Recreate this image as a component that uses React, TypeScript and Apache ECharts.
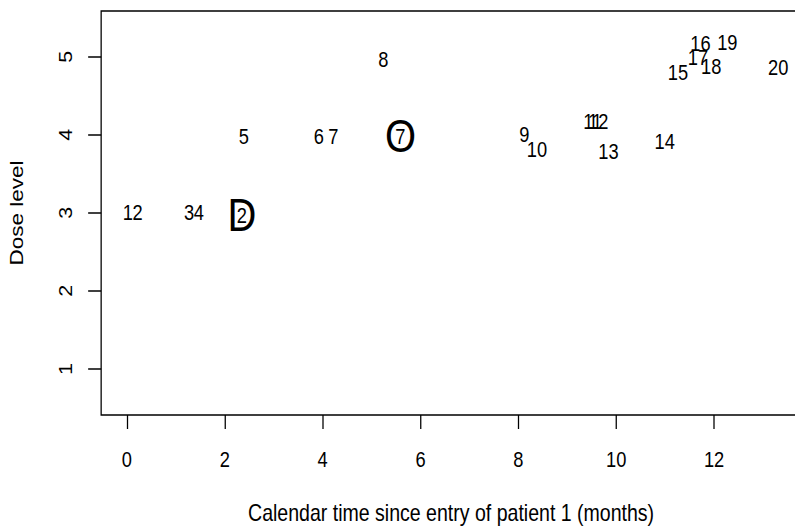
import React, { useEffect, useRef } from "react";
import * as echarts from "echarts";

// Patient entries: label, calendar time of entry (months), dose level (jittered as drawn)
const patientLabels = ["1", "2", "3", "4", "5", "6", "7", "8", "9", "10", "11", "12", "13", "14", "15", "16", "17", "18", "19", "20"];
const entryTimes = [0.02, 0.22, 1.27, 1.47, 2.39, 3.92, 4.22, 5.24, 8.12, 8.38, 9.52, 9.63, 9.84, 10.99, 11.26, 11.72, 11.67, 11.94, 12.27, 13.31];
const doseLevels = [3.0, 3.0, 3.0, 3.0, 3.98, 3.98, 3.98, 4.97, 4.0, 3.81, 4.17, 4.17, 3.79, 3.92, 4.8, 5.17, 4.99, 4.87, 5.18, 4.86];

// Events: big letter marker with patient number inside
const eventLetters = ["D", "O"];
const eventPatients = ["2", "7"];
const eventTimes = [2.35, 5.59];
const eventDoses = [2.97, 3.98];

const xTicks = [0, 2, 4, 6, 8, 10, 12];
const yTicks = [1, 2, 3, 4, 5];
const xTitle = "Calendar time since entry of patient 1 (months)";
const yTitle = "Dose level";

const FONT = "'Liberation Sans', Arial, Helvetica, sans-serif";
// The reference is horizontally condensed; the chart is drawn wider and squeezed.
const SQUEEZE = 0.85;
const CHART_W = 952;
const CHART_H = 530;

export default function App() {
  const ref = useRef<HTMLDivElement>(null);
  useEffect(() => {
    if (!ref.current) return;
    const chart = echarts.init(ref.current, null, { renderer: "svg" });
    const labelData = entryTimes.map((t, i) => [t, doseLevels[i]]);
    const eventData = eventTimes.map((t, i) => [t, eventDoses[i]]);
    chart.setOption({
      animation: false,
      backgroundColor: "#fff",
      grid: {
        left: 117.6,
        top: 11,
        right: 9.6,
        bottom: 109.3,
        show: true,
        borderColor: "#000",
        borderWidth: 1.5,
        containLabel: false,
      },
      xAxis: {
        type: "value",
        min: -0.526,
        max: 13.776,
        name: xTitle,
        nameLocation: "middle",
        nameGap: 87,
        nameTextStyle: { color: "#000", fontSize: 23, fontFamily: FONT },
        axisLine: { show: false, onZero: false },
        splitLine: { show: false },
        axisTick: { show: true, length: 14, lineStyle: { color: "#000", width: 1.5 }, customValues: xTicks },
        axisLabel: { color: "#000", fontSize: 21.5, fontFamily: FONT, margin: 33, customValues: xTicks },
      },
      yAxis: {
        type: "value",
        min: 0.41,
        max: 5.585,
        name: yTitle,
        nameLocation: "middle",
        nameGap: 88,
        nameRotate: 90,
        nameTextStyle: { color: "#000", fontSize: 22.5, fontFamily: FONT },
        axisLine: { show: false, onZero: false },
        splitLine: { show: false },
        axisTick: { show: true, length: 15.3, lineStyle: { color: "#000", width: 1.5 }, customValues: yTicks },
        axisLabel: { color: "#000", fontSize: 21.5, fontFamily: FONT, margin: 31, rotate: 90, customValues: yTicks },
      },
      series: [
        {
          type: "custom",
          coordinateSystem: "cartesian2d",
          data: labelData,
          silent: true,
          renderItem: (params: any, api: any) => {
            const p = api.coord([api.value(0), api.value(1)]);
            return {
              type: "text",
              x: p[0],
              y: p[1],
              style: {
                text: patientLabels[params.dataIndex],
                fontSize: 21.5,
                fontFamily: FONT,
                fill: "#000",
                align: "center",
                verticalAlign: "middle",
              },
            };
          },
        },
        {
          type: "custom",
          coordinateSystem: "cartesian2d",
          data: eventData,
          silent: true,
          renderItem: (params: any, api: any) => {
            const p = api.coord([api.value(0), api.value(1)]);
            const i = params.dataIndex;
            return {
              type: "group",
              children: [
                {
                  type: "text",
                  x: p[0],
                  y: p[1],
                  style: {
                    text: eventLetters[i],
                    fontSize: 47,
                    fontFamily: FONT,
                    fill: "#000",
                    align: "center",
                    verticalAlign: "middle",
                  },
                },
                {
                  type: "text",
                  x: p[0],
                  y: p[1],
                  style: {
                    text: eventPatients[i],
                    fontSize: 21.5,
                    fontFamily: FONT,
                    fill: "#000",
                    align: "center",
                    verticalAlign: "middle",
                  },
                },
              ],
            };
          },
        },
      ],
    });
    return () => chart.dispose();
  }, []);
  return (
    <div
      ref={ref}
      style={{
        position: "fixed",
        left: 0,
        top: 0,
        width: CHART_W,
        height: CHART_H,
        background: "#fff",
        transform: `scaleX(${SQUEEZE})`,
        transformOrigin: "0 0",
      }}
    />
  );
}
